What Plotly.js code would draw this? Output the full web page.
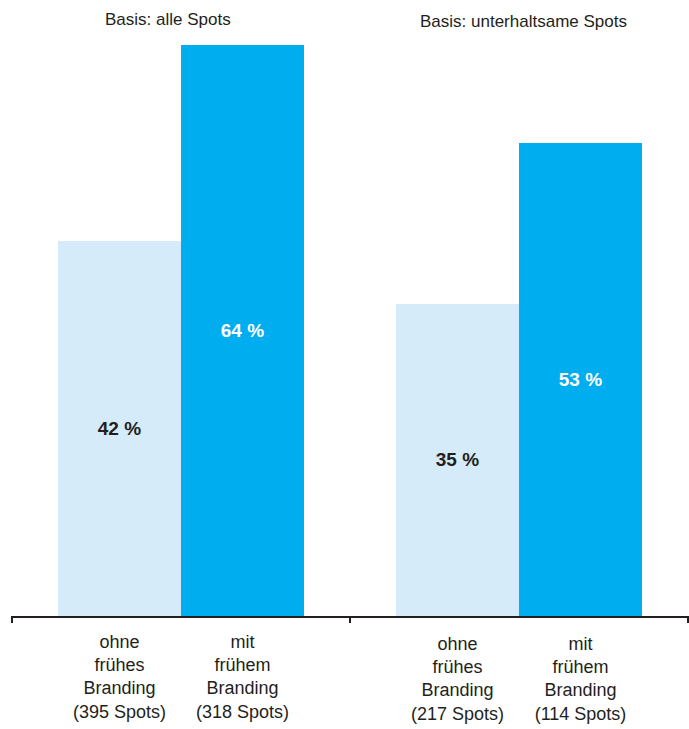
<!DOCTYPE html>
<html>
<head>
<meta charset="utf-8">
<script src="https://cdn.plot.ly/plotly-3.0.1.min.js"></script>
<style>html,body{margin:0;padding:0;background:#fff;}#chart{width:689px;height:729px;}</style>
</head>
<body>
<div id="chart"></div>
<script>
const groupTitles = ['Basis: alle Spots', 'Basis: unterhaltsame Spots'];
const categories1 = ['ohne<br>frühes<br>Branding<br>(395 Spots)', 'mit<br>frühem<br>Branding<br>(318 Spots)'];
const values1 = [42, 64];
const categories2 = ['ohne<br>frühes<br>Branding<br>(217 Spots)', 'mit<br>frühem<br>Branding<br>(114 Spots)'];
const values2 = [35, 53];

const FONT = 'Liberation Sans, Arial, sans-serif';
const LIGHT = '#d5ebf9';
const DARK = '#00aeef';

function barTrace(cats, vals, xa) {
  return {
    type: 'bar', x: cats, y: vals, xaxis: xa, yaxis: 'y',
    marker: {color: [LIGHT, DARK], line: {width: 0}},
    text: vals.map(v => '<b>' + v + ' %</b>'),
    textposition: 'inside', insidetextanchor: 'middle',
    textfont: {family: FONT, size: 19, color: ['#231f20', '#ffffff']},
    hoverinfo: 'skip', showlegend: false
  };
}

const xCommon = {
  type: 'category', range: [-0.874, 1.874], showline: true, linecolor: '#231f20', linewidth: 2,
  ticks: '', showgrid: false, zeroline: false, fixedrange: true, ticklabelstandoff: 8,
  tickfont: {family: FONT, size: 18, color: '#231f20'}, anchor: 'y'
};

const layout = {
  width: 689, height: 729,
  margin: {l: 0, r: 0, t: 0, b: 113},
  paper_bgcolor: '#fff', plot_bgcolor: '#fff',
  bargap: 0,
  xaxis: Object.assign({}, xCommon, {domain: [12/689, 350/689]}),
  xaxis2: Object.assign({}, xCommon, {domain: [350/689, 688/689], ticklabelstandoff: 10}),
  yaxis: {range: [0, 69], visible: false, showgrid: false, zeroline: false, fixedrange: true},
  annotations: [
    {text: groupTitles[0], xref: 'paper', yref: 'paper', x: 168/689, y: (616-20)/616, xanchor: 'center', yanchor: 'middle', showarrow: false, font: {family: FONT, size: 17, color: '#231f20'}},
    {text: groupTitles[1], xref: 'paper', yref: 'paper', x: 523/689, y: (616-22)/616, xanchor: 'center', yanchor: 'middle', showarrow: false, font: {family: FONT, size: 17, color: '#231f20'}}
  ],
  shapes: [12, 350, 688].map(px => ({
    type: 'line', xref: 'paper', yref: 'paper', x0: px/689, x1: px/689, y0: 0, y1: -7/616,
    line: {color: '#231f20', width: 2}
  }))
};

Plotly.newPlot('chart', [barTrace(categories1, values1, 'x'), barTrace(categories2, values2, 'x2')], layout, {displayModeBar: false, staticPlot: true});
</script>
</body>
</html>
